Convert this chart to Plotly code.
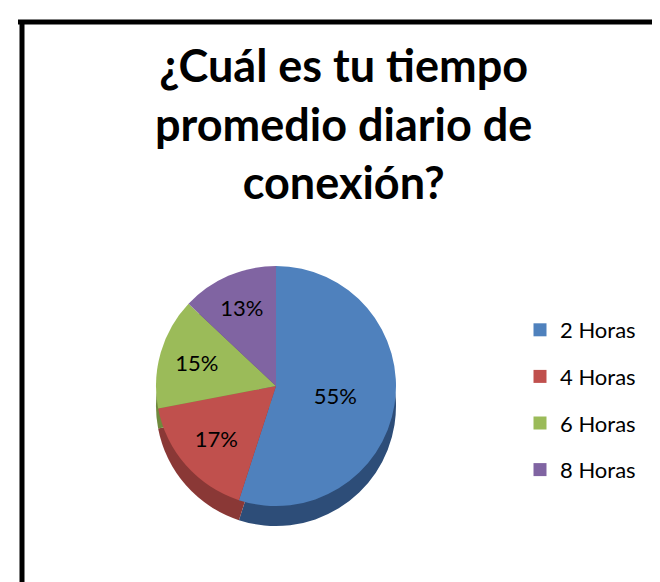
"""3D-looking pie: daily connection time."""

import plotly.graph_objects as go

# data
labels = ["2 Horas", "4 Horas", "6 Horas", "8 Horas"]
values = [55, 17, 15, 13]
title_lines = ["¿Cuál es tu tiempo", "promedio diario de", "conexión?"]

# colors (Office 2007 palette)
COLORS = ["#4F81BD", "#C0504D", "#9BBB59", "#8064A2"]
DARK = ["#2D4D78", "#8A3836", "#6F8A3D", "#5B4775"]

W, H = 660, 582
CX, CY = 268, 378      # pie center in px (from top)
R = 120                # radius in px
DEPTH = 20


def dom(cx, cy, r):
    return dict(x=[(cx - r) / W, (cx + r) / W],
                y=[(H - cy - r) / H, (H - cy + r) / H])


fig = go.Figure()

# darker copy underneath, shifted down, to fake the side wall
fig.add_trace(go.Pie(
    labels=labels, values=values, sort=False, direction="clockwise", rotation=0,
    marker=dict(colors=DARK), textinfo="none", hoverinfo="skip",
    showlegend=False, domain=dom(CX, CY + DEPTH, R),
))

fig.add_trace(go.Pie(
    labels=labels, values=values, sort=False, direction="clockwise", rotation=0,
    marker=dict(colors=COLORS, line=dict(width=0)),
    textinfo="percent", textposition="inside", insidetextorientation="horizontal",
    texttemplate="%{percent:.0%}",
    textfont=dict(family="Lato", size=22, color="black"),
    domain=dom(CX, CY, R), showlegend=False,
))

# legend entries as empty square-marker traces so the item gap can be set
for lab, col in zip(labels, COLORS):
    fig.add_trace(go.Scatter(
        x=[None], y=[None], mode="markers", name=lab, legendgroup=lab,
        marker=dict(symbol="square", size=13, color=col),
    ))

fig.update_layout(
    width=W, height=H,
    margin=dict(l=0, r=0, t=0, b=0),
    paper_bgcolor="white", plot_bgcolor="white",
    xaxis=dict(visible=False), yaxis=dict(visible=False),
    legend=dict(
        x=512 / W, xanchor="left", y=1 - 301 / H, yanchor="top",
        font=dict(family="Lato", size=22, color="black"),
        itemwidth=30, tracegroupgap=15, bgcolor="rgba(0,0,0,0)",
    ),
    annotations=[
        dict(text="<br>".join(title_lines), xref="paper", yref="paper",
             x=336 / W, y=1 - 28 / H, xanchor="center", yanchor="top",
             showarrow=False, align="center",
             font=dict(family="Lato", size=45, color="black", weight="bold")),
    ],
    shapes=[
        dict(type="line", xref="paper", yref="paper",
             x0=10 / W, x1=1.01, y0=1 - 14 / H, y1=1 - 14 / H,
             line=dict(color="black", width=5)),
        dict(type="line", xref="paper", yref="paper",
             x0=14 / W, x1=14 / W, y0=1 - 12 / H, y1=-0.01,
             line=dict(color="black", width=5)),
    ],
)

fig.write_html("out.html")
